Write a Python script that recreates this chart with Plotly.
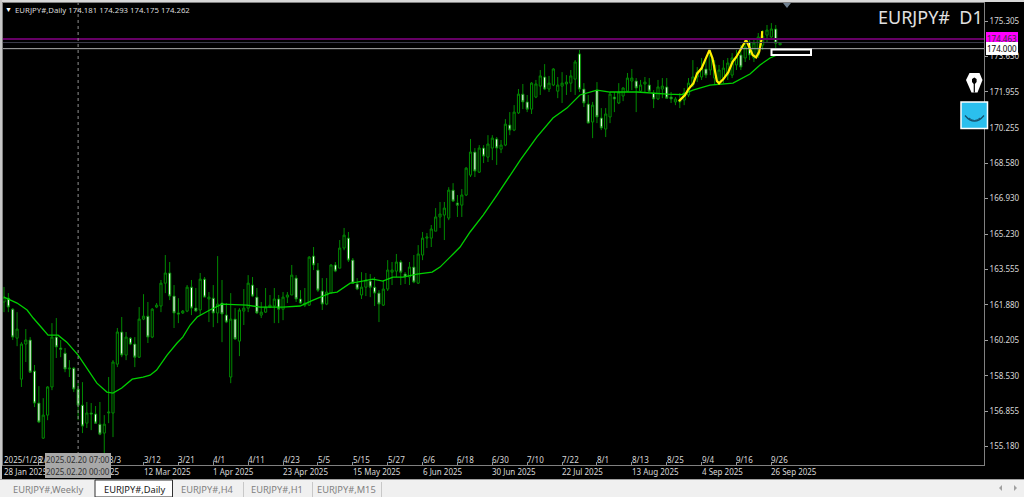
import plotly.graph_objects as go

opens = [162.02,162.20,161.68,160.31,158.37,160.03,160.22,158.75,157.24,155.58,
156.67,158.00,160.36,159.84,159.60,158.85,158.89,157.90,157.14,156.29,
156.77,156.72,156.24,155.82,156.77,156.77,159.08,160.60,159.51,160.31,
160.03,159.41,161.21,161.35,160.36,161.78,161.83,162.91,163.39,162.30,
161.50,161.50,161.59,162.72,161.73,161.64,163.10,162.16,162.20,161.50,
161.97,161.40,158.47,161.21,160.17,161.59,161.73,162.82,162.25,161.40,
161.54,161.78,161.83,162.16,161.68,162.25,162.35,163.15,162.16,161.87,
161.87,164.19,163.53,162.54,161.92,162.44,163.77,163.62,164.57,165.04,
164.00,162.87,162.35,162.72,163.01,162.72,162.44,161.87,162.63,163.43,
163.48,163.91,163.34,163.20,163.67,162.91,164.24,165.04,165.04,165.37,
166.04,166.13,165.99,167.31,166.70,166.60,167.08,168.02,169.11,168.16,
169.30,168.87,169.30,169.73,169.25,169.44,170.39,170.15,170.96,171.85,
171.48,171.14,171.71,172.23,172.66,172.09,172.28,171.99,172.23,172.33,
172.37,172.56,173.75,172.09,171.38,170.53,172.04,170.72,170.20,170.77,
171.71,171.43,171.76,171.99,172.47,172.47,171.99,172.33,172.28,171.90,
171.62,172.09,172.19,171.71,171.48,171.48,171.57,171.81,172.28,172.66,
172.66,173.04,172.99,172.61,172.42,172.61,172.75,172.75,173.23,173.70,
173.56,174.31,173.56,173.70,174.17,174.64,174.55,174.93,174.181]

highs = [162.73,162.44,161.73,161.54,160.12,160.74,160.36,159.04,158.04,157.47,
158.04,161.02,161.26,160.22,159.84,159.27,158.94,158.18,158.23,157.29,
157.24,157.10,157.29,156.67,158.47,159.27,160.79,161.31,160.60,160.36,
160.36,161.78,162.39,162.02,161.73,161.97,163.06,164.24,163.91,162.82,
162.20,161.64,162.82,163.06,162.68,163.39,163.20,162.49,162.82,164.19,
163.06,161.97,162.44,161.73,161.73,162.63,163.29,163.20,162.68,162.02,
162.68,162.35,162.68,162.35,162.49,162.49,163.77,163.29,162.58,162.68,
164.19,164.62,163.86,163.15,163.15,163.80,163.91,164.95,165.52,165.33,
164.10,163.15,163.43,163.39,163.34,163.20,162.58,163.06,164.00,163.91,
164.29,164.00,163.43,163.91,164.24,164.71,165.33,165.28,165.66,166.46,
166.75,166.75,167.45,167.64,167.08,167.36,168.40,169.73,169.30,169.44,
169.44,169.91,169.91,169.82,169.68,170.67,171.00,171.33,172.09,172.33,
171.81,172.42,172.52,172.99,173.27,172.71,173.08,172.66,172.89,172.75,
172.99,173.46,173.94,172.37,171.81,171.48,172.42,171.19,171.19,171.95,
171.95,172.37,172.18,172.85,173.04,172.61,172.52,172.66,172.61,172.04,
172.52,172.61,172.61,171.95,171.71,171.90,172.14,172.61,173.46,173.13,
173.56,173.46,173.94,173.46,173.23,173.46,173.56,173.79,173.94,174.17,
174.41,174.50,174.50,174.74,174.88,175.12,175.21,175.12,174.293]

lows = [161.54,161.54,160.22,159.93,158.00,159.18,158.66,157.05,156.29,155.54,
156.43,157.85,159.37,159.41,158.70,158.47,157.76,156.43,155.82,156.06,
155.96,156.29,155.72,154.83,156.29,155.63,158.94,159.41,159.27,159.98,
158.94,159.37,161.16,160.08,160.31,161.73,161.54,162.44,162.11,160.79,
161.02,161.45,161.54,161.40,161.54,161.40,162.25,161.07,160.83,161.02,
160.12,161.02,158.18,160.22,159.46,160.93,161.54,162.25,161.45,161.26,
161.50,161.73,161.02,161.02,161.16,161.97,162.35,162.02,161.92,161.78,
161.83,163.53,162.49,161.64,161.87,162.44,163.43,163.62,164.47,163.91,
162.87,162.58,162.16,162.30,162.25,161.83,161.07,161.83,162.54,162.82,
163.20,162.82,162.87,162.82,162.91,162.87,164.00,164.57,164.62,165.37,
165.52,164.95,165.89,166.75,166.04,166.04,167.03,167.93,167.93,168.12,
168.59,168.64,168.73,168.50,169.06,169.39,169.91,170.10,170.91,171.14,
171.00,170.91,171.66,171.81,172.04,171.95,172.23,171.66,171.43,171.81,
171.95,171.81,171.95,171.24,170.48,169.77,170.48,170.15,169.82,170.48,
171.00,171.38,171.52,171.95,172.04,171.00,171.95,171.95,171.95,171.19,
171.57,171.66,171.62,171.43,171.33,171.19,171.33,171.71,172.18,172.42,
172.52,172.61,172.75,172.28,172.28,172.37,172.52,172.61,172.99,172.99,
173.37,173.46,173.37,173.56,173.94,174.31,174.50,174.03,174.175]

closes = [162.25,161.78,160.36,160.74,160.03,160.22,158.70,157.24,156.34,156.67,
158.00,160.36,159.89,159.79,158.85,158.89,157.90,157.14,156.15,156.77,
156.72,156.29,155.77,156.24,156.81,159.18,160.60,159.51,160.36,160.03,
159.41,161.21,161.35,160.36,161.68,161.87,162.91,163.39,162.30,161.50,
161.45,161.59,162.72,161.73,161.59,163.10,162.25,162.25,161.50,161.92,
161.45,161.07,161.21,160.27,161.64,161.73,162.91,162.30,161.50,161.54,
161.78,161.87,162.16,161.68,162.25,162.35,163.29,162.16,161.97,161.97,
164.14,163.77,162.58,161.92,162.49,163.77,163.48,164.57,165.18,164.00,
162.91,162.63,162.72,163.06,162.72,162.44,161.92,162.63,163.53,163.53,
163.91,163.43,163.20,163.67,162.96,164.29,165.04,165.09,165.47,166.04,
166.18,166.46,167.31,166.79,166.60,167.08,168.35,169.11,168.21,169.30,
168.92,169.49,169.77,169.30,169.44,170.43,170.15,171.00,171.85,171.48,
171.14,172.37,172.33,172.71,172.09,172.37,173.04,172.28,172.37,172.42,
172.71,173.37,172.09,171.43,170.48,171.33,170.77,170.25,170.91,171.85,
171.62,171.95,172.14,172.61,172.61,172.14,172.28,172.42,171.99,171.62,
172.19,172.23,171.66,171.62,171.62,171.57,171.90,172.37,172.66,172.89,
173.08,172.75,173.70,173.23,172.99,173.08,173.32,173.56,173.60,173.13,
174.08,173.70,174.27,174.55,174.60,174.88,174.93,174.26,174.262]

ma_bars = [0,1,3,5.3,6.7,8.7,10.1,12.4,14.4,17,19,21.3,23.6,25,27,29.4,31.9,33.5,35,37.4,39.7,41,42.7,44.3,47.2,50,55.7,58.7,64,67.9,
70.9,74.8,76.4,79.4,81,84.6,86.9,89.2,91.5,94.7,98.2,100,102.3,104.6,106.9,109.9,113.1,115.4,118.4,122.2,125.9,129.1,132.1,136,139,145.2,148.2,152.1,155.5,158,161.9,167.2,171.1,173.4,175.7,177.3]
ma_values = [162.25,162.16,161.97,161.64,161.26,160.79,160.45,160.45,160.12,159.51,158.89,158.18,157.76,157.71,157.95,158.37,158.47,158.56,158.80,159.51,160.08,160.36,160.93,161.31,161.64,161.92,161.87,161.78,161.78,161.83,
162.11,162.44,162.49,162.91,162.96,163.10,163.01,163.20,163.20,163.34,163.43,163.67,164.14,164.62,165.33,166.13,167.08,167.79,168.73,169.82,170.72,171.19,171.81,172.04,171.95,171.95,171.90,171.85,171.83,172.04,172.28,172.37,172.80,173.23,173.56,173.70]

drawn_bars = [154.8,156.2,157.0,158.1,159.0,160.0,160.8,161.8,162.5,163.1,163.5,164.0,165.0,166.1,167.1,168.0,169.2,170.2,170.9,171.7,172.5,173.2,173.8,173.9]
drawn_values = [171.52,171.81,172.09,172.36,172.83,173.07,173.46,173.93,173.54,172.91,172.47,172.36,172.56,172.88,173.38,173.62,174.02,174.41,174.09,173.70,173.59,173.85,174.49,174.83]

price_ticks = [175.305,173.630,171.955,170.255,168.580,166.930,165.230,163.555,161.880,160.205,158.530,156.855,155.180]
price_tick_text = ["175.305","173.630","171.955","170.255","168.580","166.930","165.230","163.555","161.880","160.205","158.530","156.855","155.180"]
time_ticks = list(range(0, 177, 8))
upper_labels = ["2025/1/28","2/7","2/19","3/3","3/12","3/21","4/1","4/11","4/23","5/5","5/15","5/27","6/6","6/18","6/30","7/10","7/22","8/1","8/13","8/25","9/4","9/16","9/26"]
lower_ticks = [0,16,32,48,64,80,96,112,128,144,160,176]
lower_labels = ["28 Jan 2025","19 Feb 2025","12 Mar 2025","1 Apr 2025","23 Apr 2025","15 May 2025","6 Jun 2025","30 Jun 2025","22 Jul 2025","13 Aug 2025","4 Sep 2025","26 Sep 2025"]
tab_labels = ["EURJPY#,Weekly","EURJPY#,Daily","EURJPY#,H4","EURJPY#,H1","EURJPY#,M15"]

bar_index = list(range(len(closes)))
CANDLE = "#008a00"
FONT = "Noto Sans"

L, R, T, B = 3, 984, 3, 465
def fx(p): return (p - L) / (R - L)
def fy(p): return 1 - (p - T) / (B - T)

fig = go.Figure()
fig.add_trace(go.Candlestick(x=bar_index, open=opens, high=highs, low=lows, close=closes,
    increasing=dict(line=dict(color=CANDLE, width=1), fillcolor="#000000"),
    decreasing=dict(line=dict(color=CANDLE, width=1), fillcolor="#ffffff"),
    whiskerwidth=0, showlegend=False))
fig.add_trace(go.Scatter(x=ma_bars, y=ma_values, mode="lines", line=dict(color="#00d000", width=1.3), showlegend=False))
fig.add_trace(go.Scatter(x=drawn_bars, y=drawn_values, mode="lines", line=dict(color="#ffee00", width=2.2), showlegend=False))

def rect(x0, y0, x1, y1, fill, line=None, w=0):
    return dict(type="rect", xref="paper", yref="paper", x0=fx(x0), x1=fx(x1), y0=fy(y0), y1=fy(y1),
                fillcolor=fill, line=dict(color=line or fill, width=w), layer="above")
def path(d, fill=None, line=None, w=0):
    return dict(type="path", xref="paper", yref="paper", path=d, fillcolor=fill or "rgba(0,0,0,0)",
                line=dict(color=line or "rgba(0,0,0,0)", width=w), layer="above")
def poly(pts, close=True):
    s = "M" + " L".join(f"{fx(a):.5f},{fy(b):.5f}" for a, b in pts)
    return s + (" Z" if close else "")

shapes = []
# horizontal levels
for level, col, w in [(174.463, "#660066", 2), (174.29, "#3c3c4c", 1), (174.0, "#b0b0b0", 1)]:
    shapes.append(dict(type="line", xref="paper", yref="y", x0=0, x1=1, y0=level, y1=level, line=dict(color=col, width=w), layer="above"))
# crosshair
shapes.append(dict(type="line", xref="x", yref="paper", x0=17, x1=17, y0=fy(455), y1=1, line=dict(color="#909090", width=1, dash="dot"), layer="above"))
# rectangle object
shapes.append(rect(771.5, 49.5, 811, 55, "#000000", "#ffffff", 2))
# top marker
shapes.append(path(poly([(783, 3), (791, 3), (787, 8)]), fill="#708090"))
# window edges
shapes.append(rect(0, 0, 1024, 2, "#d8d8d8"))
shapes.append(rect(0, 0, 2, 480, "#c8c8c8"))
# tab bar
shapes.append(rect(0, 479, 1024, 497, "#f0f0f0"))
shapes.append(rect(0, 479, 1024, 480, "#a0a0a0"))
shapes.append(rect(95, 480, 172.5, 497, "#ffffff", "#303030", 1))
for sx in [243, 312, 381]:
    shapes.append(rect(sx, 482, sx + 1, 497, "#c8c8c8"))
shapes.append(path(poly([(1002, 485), (1002, 491), (999, 488)]), fill="#a0a0a0"))
shapes.append(path(poly([(1014, 485), (1014, 491), (1017, 488)]), fill="#a0a0a0"))
# pen icon
shapes.append(path(poly([(969.5, 73), (979.5, 73), (982.5, 80), (977.5, 92.5), (971.5, 92.5), (966, 80)]), fill="#ffffff"))
shapes.append(path(poly([(972, 79), (974.3, 77.5), (976.6, 79), (976.6, 82), (974.9, 84), (974.9, 92.5), (973.7, 92.5), (973.7, 84), (972, 82)]), fill="#000000"))
# smile icon
shapes.append(rect(961, 102, 987.5, 128.5, "#2bbfee", "#ffffff", 1.5))
shapes.append(path(f"M{fx(965)},{fy(115.5)} Q{fx(974.5)},{fy(127)} {fx(984)},{fy(115.5)}", line="#15506e", w=1.2))
shapes.append(path(f"M{fx(969)},{fy(118)} Q{fx(974.5)},{fy(123)} {fx(980)},{fy(118)}", line="#15506e", w=1))

def label(text, x, y, size=8, color="#d8d8d8", xref="paper", xanchor="left", bg=None, font=FONT, pad=0):
    return dict(text=text, x=x, y=fy(y), xref=xref, yref="paper", xanchor=xanchor, yanchor="middle", showarrow=False,
                font=dict(family=font, size=size, color=color), bgcolor=bg, borderpad=pad, borderwidth=0)

ann = []
for idx, t in zip(time_ticks, upper_labels):
    ann.append(label(t, idx, 459, xref="x"))
for idx, t in zip(lower_ticks, lower_labels):
    ann.append(label(t, idx, 471.5, xref="x"))
ann.append(label("2025.02.20 07:00", fx(77.5), 459.5, xanchor="center", bg="#a8a8a8", color="#303030", pad=1))
ann.append(label("2025.02.20 00:00", fx(77.5), 471.5, xanchor="center", bg="#a8a8a8", color="#303030", pad=1))
ann.append(label("▼", fx(5), 9.5, size=7, color="#ffffff"))
ann.append(label("EURJPY#,Daily 174.181 174.293 174.175 174.262", fx(15), 10, size=7.8))
ann.append(label("EURJPY#  D1", fx(983), 16.5, size=18, color="#e0e0e0", xanchor="right"))
ann.append(label("174.463", fx(986), 38.8, size=8, color="#303030", bg="#ff00ff", pad=1))
ann.append(label("174.000", fx(986), 48.5, size=8, color="#000000", bg="#ffffff", pad=1))
for cx, t, col in [(48, tab_labels[0], "#808080"), (134, tab_labels[1], "#202020"), (207, tab_labels[2], "#808080"),
                   (277, tab_labels[3], "#808080"), (346, tab_labels[4], "#808080")]:
    ann.append(label(t, fx(cx), 489, size=9.3, color=col, xanchor="center"))

fig.update_layout(
    width=1024, height=497, autosize=False,
    margin=dict(l=L, r=1024 - R, t=T, b=497 - B),
    paper_bgcolor="#000000", plot_bgcolor="#000000",
    xaxis=dict(range=[-0.23, 224.77], autorange=False, rangeslider=dict(visible=False), showgrid=False, zeroline=False,
               tickmode="array", tickvals=time_ticks, showticklabels=False, ticks="inside", ticklen=3, tickcolor="#909090",
               showline=True, mirror=True, linecolor="#808080", linewidth=1),
    yaxis=dict(range=[154.31, 176.16], autorange=False, side="right", showgrid=False, zeroline=False,
               tickmode="array", tickvals=price_ticks, ticktext=price_tick_text, ticks="outside", ticklen=3, tickcolor="#a0a0a0",
               tickfont=dict(family=FONT, size=8, color="#d8d8d8"),
               showline=True, mirror=True, linecolor="#808080", linewidth=1),
    shapes=shapes, annotations=ann, showlegend=False,
)
fig.write_html("out.html", config={"displayModeBar": False},
               post_script="document.body.style.margin='0';document.body.style.overflow='hidden';document.documentElement.style.overflow='hidden';")
